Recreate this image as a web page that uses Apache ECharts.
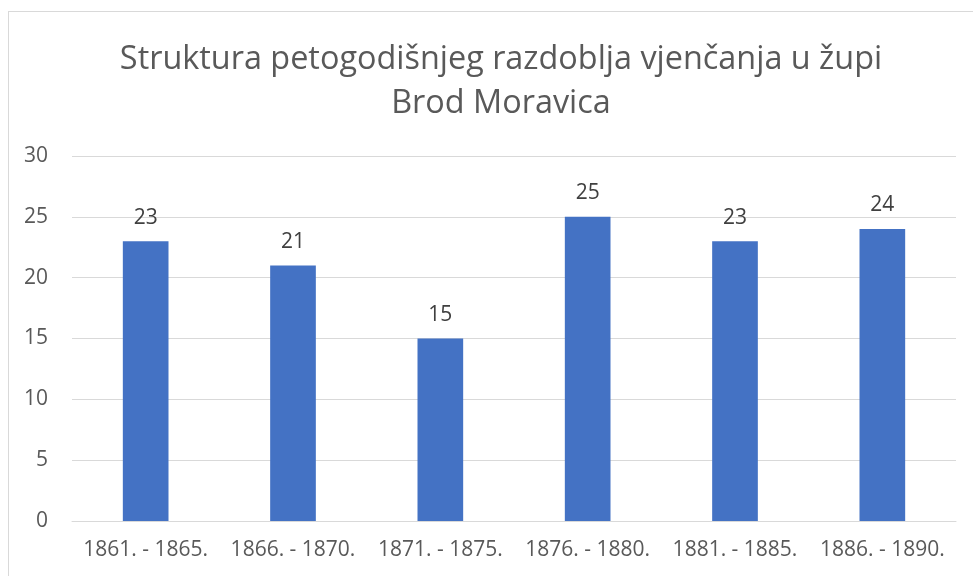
<!DOCTYPE html>
<html><head><meta charset="utf-8">
<script src="https://cdn.jsdelivr.net/npm/echarts@6/dist/echarts.min.js"></script>
<style>html,body{margin:0;padding:0;background:#fff}#c{width:973px;height:576px}
#frame{position:absolute;left:8px;top:11px;width:980px;height:600px;border:1px solid #d9d9d9;pointer-events:none}</style>
</head><body><div id="c"></div><div id="frame"></div>
<script>
const titleText = 'Struktura petogodišnjeg razdoblja vjenčanja u župi\nBrod Moravica';
const categories = ['1861. - 1865.', '1866. - 1870.', '1871. - 1875.', '1876. - 1880.', '1881. - 1885.', '1886. - 1890.'];
const values = [23, 21, 15, 25, 23, 24];
const yTicks = {min: 0, max: 30, interval: 5};
const FONT = 'Open Sans';
const chart = echarts.init(document.getElementById('c'));
chart.setOption({
  animation: false,
  title: {text: titleText, left: 496, textAlign: 'center', top: 33,
    textStyle: {fontFamily: FONT, fontSize: 32.4, fontWeight: 'normal', color: '#595959', lineHeight: 44}},
  grid: {left: 72, right: 17, top: 156, bottom: 55},
  xAxis: {type: 'category', data: categories,
    axisLine: {lineStyle: {color: '#d9d9d9', width: 1}}, axisTick: {show: false},
    axisLabel: {fontFamily: FONT, fontSize: 21, color: '#595959', margin: 19, interval: 0}},
  yAxis: {type: 'value', min: yTicks.min, max: yTicks.max, interval: yTicks.interval,
    axisLine: {show: false}, axisTick: {show: false},
    splitLine: {lineStyle: {color: '#d9d9d9', width: 1}},
    axisLabel: {fontFamily: FONT, fontSize: 21, color: '#595959', margin: 24}},
  series: [{type: 'bar', data: values, barWidth: '31%',
    itemStyle: {color: '#4472c4'},
    label: {show: true, position: 'top', distance: 13, fontFamily: FONT, fontSize: 21, color: '#404040'}}]
});
</script></body></html>
